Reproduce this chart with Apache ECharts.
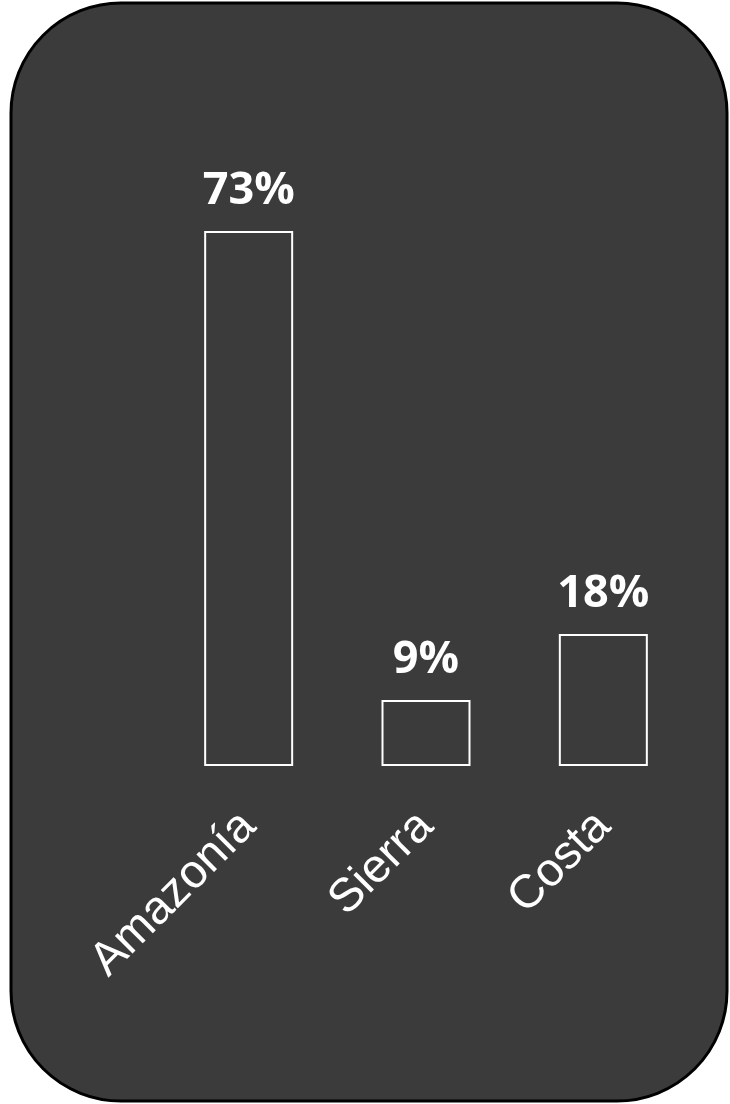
<!DOCTYPE html>
<html>
<head>
<meta charset="utf-8">
<script src="https://cdn.jsdelivr.net/npm/echarts@6/dist/echarts.min.js"></script>
<style>
html,body{margin:0;padding:0;background:#fff;}
#chart{width:730px;height:1104px;}
</style>
</head>
<body>
<div id="chart"></div>
<script>
const categories = ['Amazonía', 'Sierra', 'Costa'];
const values = [73, 9, 18];

const chart = echarts.init(document.getElementById('chart'), null, {renderer: 'canvas'});
chart.setOption({
  backgroundColor: '#ffffff',
  animation: false,
  graphic: [{
    type: 'rect',
    z: -10,
    silent: true,
    shape: {x: 11, y: 3, width: 716, height: 1098, r: 110},
    style: {fill: '#3b3b3b', stroke: '#000000', lineWidth: 3}
  }],
  grid: {left: 160, right: 38, top: 231, bottom: 338, containLabel: false},
  xAxis: {
    type: 'category',
    data: categories,
    axisLine: {show: false},
    axisTick: {show: false},
    axisLabel: {
      rotate: 45,
      margin: 53,
      color: '#ffffff',
      fontFamily: 'Liberation Sans, Arial, sans-serif',
      fontSize: 47
    }
  },
  yAxis: {
    type: 'value',
    min: 0,
    max: 73,
    show: false,
    splitLine: {show: false}
  },
  series: [{
    type: 'bar',
    data: values,
    barWidth: 89,
    itemStyle: {color: '#3b3b3b', borderColor: '#ffffff', borderWidth: 2},
    label: {
      show: true,
      position: 'top',
      distance: 17,
      formatter: '{c}%',
      color: '#ffffff',
      fontWeight: 'bold',
      fontFamily: 'Open Sans, sans-serif',
      fontSize: 45
    }
  }]
});
</script>
</body>
</html>
